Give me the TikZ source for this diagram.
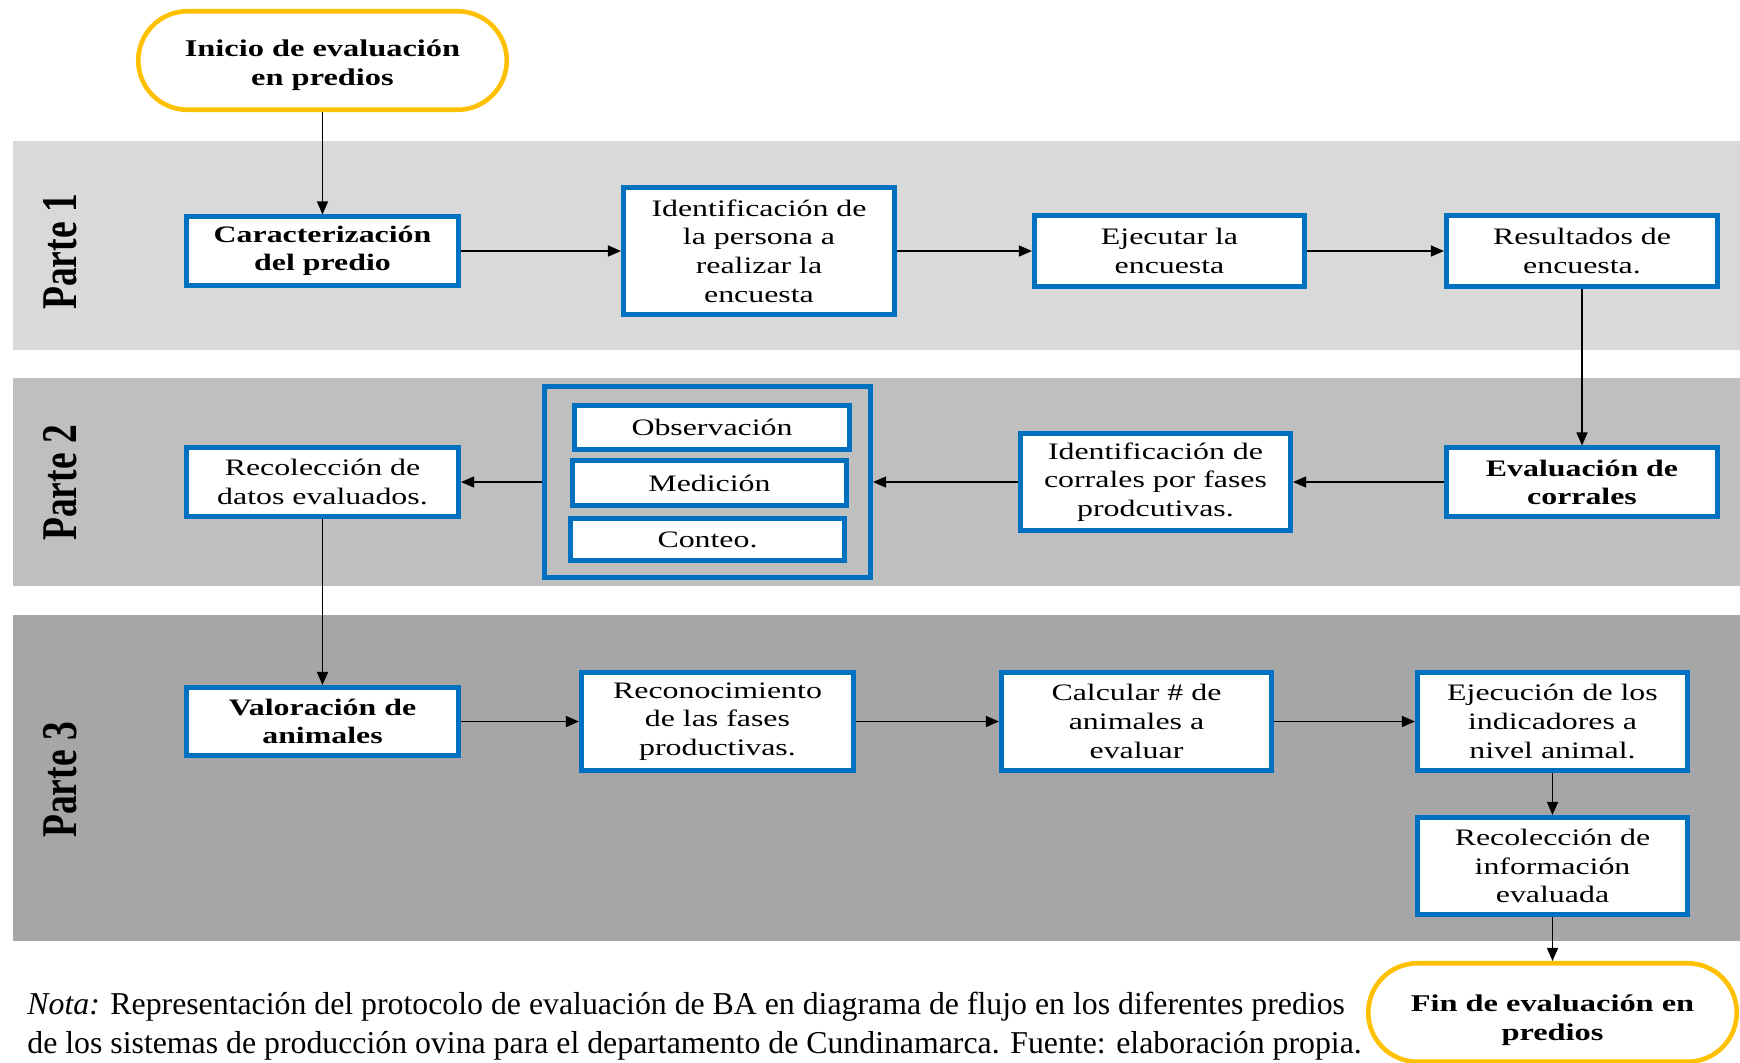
\documentclass[tikz,border=0pt]{standalone}
\usepackage{fontspec}
\setmainfont{Liberation Serif}
\newfontfamily\boxfont[FakeStretch=1.35]{Liberation Serif}
\newfontfamily\partfont[FakeStretch=0.75]{Liberation Serif}
\usetikzlibrary{arrows.meta}
\definecolor{bandA}{RGB}{217,217,217}
\definecolor{bandB}{RGB}{191,191,191}
\definecolor{bandC}{RGB}{166,166,166}
\definecolor{boxblue}{RGB}{0,112,192}
\definecolor{ovalyellow}{RGB}{255,192,0}
\tikzset{
  stepbox/.style={draw=boxblue, fill=white, line width=2.3pt, inner sep=0pt, align=center,
    font=\boxfont\fontsize{11.8}{14.4}\selectfont},
  boldbox/.style={stepbox, font=\boxfont\bfseries\fontsize{11.8}{14}\selectfont},
  framebox/.style={draw=boxblue, line width=2.3pt, inner sep=0pt},
  terminal/.style={draw=ovalyellow, fill=white, line width=2.3pt, rounded corners=24.6pt,
    minimum width=184.25pt, minimum height=49.25pt, inner sep=0pt, align=center,
    font=\boxfont\bfseries\fontsize{12}{14.4}\selectfont},
  band/.style={draw=none},
  partlabel/.style={rotate=90, font=\partfont\bfseries\fontsize{25}{25}\selectfont, inner sep=0pt},
  flow/.style={draw=black, line width=0.7pt, -{Triangle[length=6.5pt,width=5.5pt]}},
  captiontext/.style={anchor=base west, inner sep=0pt, font=\fontsize{15.9}{20}\selectfont}
}
\begin{document}
\begin{tikzpicture}[x=0.5pt, y=-0.5pt]
\useasboundingbox (0,0) rectangle (1740,1062);
\fill[white] (0,0) rectangle (1740,1062);
% bands
\fill[bandA] (13,141) rectangle (1740,350);
\fill[bandB] (13,378) rectangle (1740,586);
\fill[bandC] (13,615) rectangle (1740,941);
\node[partlabel] (p1) at (60,252) {Parte 1};
\node[partlabel] (p2) at (60,483) {Parte 2};
\node[partlabel] (p3) at (60,780) {Parte 3};
% terminals
\node[terminal] (start) at (322.5,60.5) {\rule{0pt}{13pt}Inicio de evaluación\\en predios};
% row 1
\node[boldbox, minimum width=136.25pt, minimum height=34.25pt] (car) at (322.5,251) {Caracterización\\del predio};
\node[stepbox, minimum width=135.75pt, minimum height=63.75pt] (idp) at (759,251) {Identificación de\\la persona a\\realizar la\\encuesta};
\node[stepbox, minimum width=135.25pt, minimum height=35.25pt] (eje) at (1169.5,251) {Ejecutar la\\encuesta};
\node[stepbox, minimum width=135.75pt, minimum height=35.25pt] (res) at (1582,251) {Resultados de\\encuesta.};
% row 2
\node[stepbox, minimum width=136.25pt, minimum height=34.25pt] (rec) at (322.5,482) {Recolección de\\datos evaluados.};
\node[framebox, minimum width=163.25pt, minimum height=95.25pt] (cont) at (707.5,482) {};
\node[stepbox, minimum width=137.75pt, minimum height=22.25pt] (obs) at (712,427.5) {Observación};
\node[stepbox, minimum width=137.25pt, minimum height=22.75pt] (med) at (709.5,483) {Medición};
\node[stepbox, minimum width=137.25pt, minimum height=21.25pt] (con) at (707.5,539.5) {Conteo.};
\node[stepbox, minimum width=135.25pt, minimum height=48.75pt] (idc) at (1155.5,482) {Identificación de\\corrales por fases\\prodcutivas.};
\node[boldbox, minimum width=135.75pt, minimum height=34.25pt] (eva) at (1582,482) {Evaluación de\\corrales};
% row 3
\node[boldbox, minimum width=136.25pt, minimum height=34.25pt] (val) at (322.5,721.5) {Valoración de\\animales};
\node[stepbox, minimum width=136.25pt, minimum height=49.25pt] (recon) at (717.5,721.5) {Reconocimiento\\de las fases\\productivas.};
\node[stepbox, minimum width=135.25pt, minimum height=49.25pt] (calc) at (1136.5,721.5) {Calcular \# de\\animales a\\evaluar};
\node[stepbox, minimum width=135.25pt, minimum height=49.25pt] (ejec) at (1552.5,721.5) {Ejecución de los\\indicadores a\\nivel animal.};
\node[stepbox, minimum width=135.25pt, minimum height=48.75pt] (recinf) at (1552.5,866) {Recolección de\\información\\evaluada};
\node[terminal] (fin) at (1552.5,1012.5) {\rule{0pt}{16pt}Fin de evaluación en\\predios};
% connectors
\draw[flow] (start) -- (car);
\draw[flow] (car) -- (idp);
\draw[flow] (idp) -- (eje);
\draw[flow] (eje) -- (res);
\draw[flow] (res) -- (eva);
\draw[flow] (eva) -- (idc);
\draw[flow] (idc) -- (cont);
\draw[flow] (cont) -- (rec);
\draw[flow] (rec) -- (val);
\draw[flow] (val) -- (recon);
\draw[flow] (recon) -- (calc);
\draw[flow] (calc) -- (ejec);
\draw[flow] (ejec) -- (recinf);
\draw[flow] (recinf) -- (fin);
% caption
\node[captiontext] (cap1) at (27,1014) {\textit{Nota:} Representación del protocolo de evaluación de BA en diagrama de flujo en los diferentes predios};
\node[captiontext] (cap2) at (27,1053) {de los sistemas de producción ovina para el departamento de Cundinamarca. Fuente: elaboración propia.};
\end{tikzpicture}
\end{document}
